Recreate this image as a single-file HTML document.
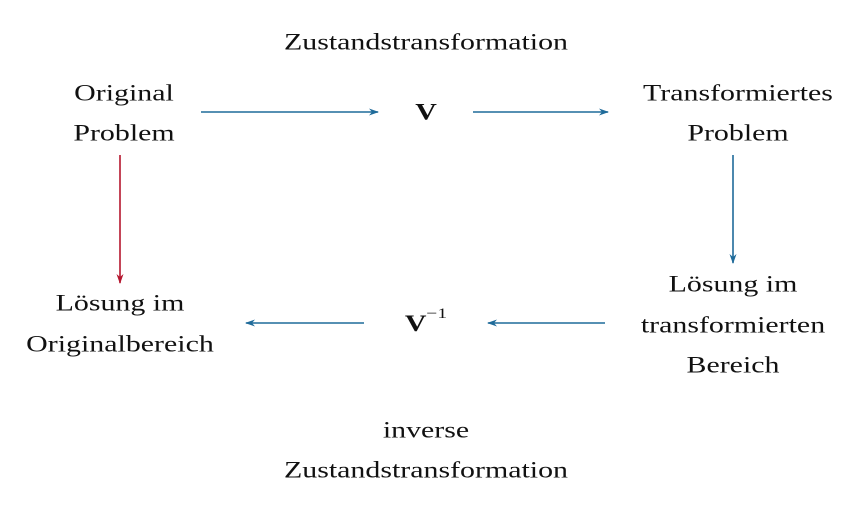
<!DOCTYPE html>
<html><head><meta charset="utf-8"><style>
html,body{margin:0;padding:0;background:#fff;}
#c{position:relative;width:860px;height:508px;overflow:hidden;font-family:"Liberation Serif",serif;font-size:23px;color:#111;}
.t{position:absolute;transform:translate(-50%,-50%) scaleX(1.3);white-space:nowrap;line-height:1;}
svg{position:absolute;left:0;top:0;}
</style></head><body><div id="c">
<svg width="860" height="508">
<defs>
<marker id="b" viewBox="0 0 10 10" refX="9" refY="5" markerWidth="10" markerHeight="10" markerUnits="userSpaceOnUse" orient="auto"><path d="M0,1.5 L10,5 L0,8.5 L3,5z" fill="#1f6b9a"/></marker>
<marker id="r" viewBox="0 0 10 10" refX="9" refY="5" markerWidth="10" markerHeight="10" markerUnits="userSpaceOnUse" orient="auto"><path d="M0,1.5 L10,5 L0,8.5 L3,5z" fill="#b5172f"/></marker>
</defs>
<g stroke="#1f6b9a" stroke-width="1.6" fill="none">
<line x1="201" y1="112" x2="378" y2="112" marker-end="url(#b)"/>
<line x1="473" y1="112" x2="608" y2="112" marker-end="url(#b)"/>
<line x1="733" y1="155" x2="733" y2="263" marker-end="url(#b)"/>
<line x1="605" y1="323" x2="488" y2="323" marker-end="url(#b)"/>
<line x1="364" y1="323" x2="246" y2="323" marker-end="url(#b)"/>
</g>
<line x1="120" y1="155" x2="120" y2="283" stroke="#b5172f" stroke-width="1.6" marker-end="url(#r)"/>
</svg>
<div class="t" style="left:426px;top:42px">Zustandstransformation</div>
<div class="t" style="left:124px;top:93px">Original</div>
<div class="t" style="left:124px;top:133px">Problem</div>
<div class="t" style="left:426px;top:112px;font-weight:bold">V</div>
<div class="t" style="left:738px;top:93px">Transformiertes</div>
<div class="t" style="left:738px;top:133px">Problem</div>
<div class="t" style="left:120px;top:303px">Lösung im</div>
<div class="t" style="left:120px;top:344px">Originalbereich</div>
<div class="t" style="left:426px;top:323px"><b>V</b><sup style="font-size:15px;position:relative;top:-4px">−1</sup></div>
<div class="t" style="left:733px;top:284px">Lösung im</div>
<div class="t" style="left:733px;top:325px">transformierten</div>
<div class="t" style="left:733px;top:365px">Bereich</div>
<div class="t" style="left:426px;top:430px">inverse</div>
<div class="t" style="left:426px;top:470px">Zustandstransformation</div>
</div></body></html>
